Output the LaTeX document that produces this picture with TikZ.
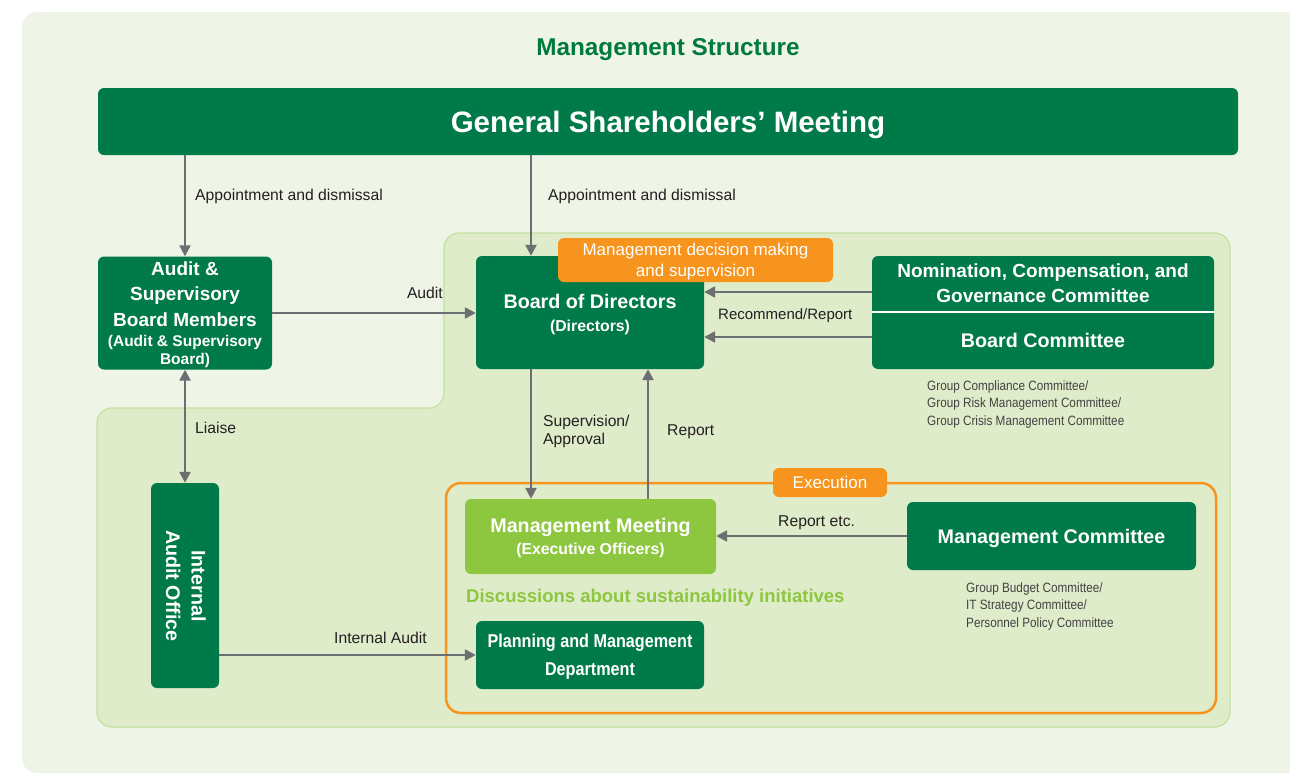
\documentclass[tikz,border=0pt]{standalone}
\usepackage{fontspec}
\setmainfont{Liberation Sans}
\newfontfamily\narrowfont[FakeStretch=0.87]{Liberation Sans}
\usetikzlibrary{arrows.meta,calc}
\definecolor{dkgreen}{HTML}{007A48}
\definecolor{ltgreen}{HTML}{8DC63F}
\definecolor{orng}{HTML}{F7941D}
\definecolor{bgouter}{HTML}{EFF5E6}
\definecolor{bginner}{HTML}{DFECCA}
\definecolor{bgborder}{HTML}{C2E09E}
\definecolor{arrgray}{HTML}{6D6E71}
\definecolor{lbl}{HTML}{231F20}
\definecolor{titlegreen}{HTML}{00793F}
\begin{document}
\begin{tikzpicture}[x=1pt,y=-1pt,
  gbox/.style={fill=dkgreen, rounded corners=6pt, inner sep=0pt, text=white, align=center, text depth=0pt},
  lgbox/.style={gbox, fill=ltgreen},
  obox/.style={fill=orng, rounded corners=6pt, inner sep=0pt, text=white, align=center, text depth=0pt, font=\fontsize{17}{21}\selectfont},
  txtnode/.style={inner sep=0pt, text=white, align=center, text depth=0pt},
  lab/.style={inner sep=0pt, text=lbl, text depth=0pt, font=\fontsize{15.7}{18}\selectfont},
  small/.style={inner sep=0pt, text=lbl!85, align=left, font=\narrowfont\fontsize{13.5}{17.5}\selectfont},
  arr/.style={draw=arrgray, line width=2.4pt, -{Triangle[length=11pt,width=11pt]}},
  darr/.style={draw=arrgray, line width=2.4pt, {Triangle[length=11pt,width=11pt]}-{Triangle[length=11pt,width=11pt]}}
]
\useasboundingbox (0,0) rectangle (1290,774);
\fill[white] (0,0) rectangle (1290,774);
\fill[bgouter, rounded corners=15pt] (1320,12) -- (22,12) -- (22,773) -- (1320,773) -- cycle;
% inner L-shaped region
\filldraw[fill=bginner, draw=bgborder, line width=1.2pt, rounded corners=15pt]
  (444,233) -- (1230,233) -- (1230,727) -- (97,727) -- (97,408) -- (444,408) -- cycle;
% execution frame
\draw[orng, line width=2.5pt, rounded corners=15pt] (446,483) rectangle (1216,713);

% title
\node[inner sep=0pt, text depth=0pt, text=titlegreen, font=\bfseries\fontsize{24.3}{27}\selectfont] (title) at (668,47) {Management Structure};

% General shareholders
\node[gbox, minimum width=1140pt, minimum height=67pt, font=\bfseries\fontsize{29.5}{32}\selectfont] (gsm) at (668,121.5) {General Shareholders’ Meeting};

% Audit & Supervisory board
\node[gbox, minimum width=174pt, minimum height=113pt, font=\bfseries\fontsize{19}{25.5}\selectfont] (asb) at (185,313)
  {Audit \&\\Supervisory\\Board Members\\[-5.5pt]{\fontsize{15.5}{18}\selectfont(Audit \& Supervisory}\\[-7.5pt]{\fontsize{15.5}{18}\selectfont Board)}};

% Board of directors
\node[gbox, minimum width=228pt, minimum height=113pt, font=\bfseries\fontsize{19.7}{23}\selectfont] (bod) at (590,312.5)
  {Board of Directors\\{\fontsize{15.8}{18}\selectfont(Directors)}};
\node[obox, minimum width=275pt, minimum height=44pt] (mdm) at (695.5,260) {Management decision making\\and supervision};

% Committees
\fill[dkgreen, rounded corners=6pt] (872,256) rectangle (1214,369);
\draw[white, line width=2pt] (872,312) -- (1214,312);
\node[txtnode, minimum width=342pt, minimum height=55pt, font=\bfseries\fontsize{19}{25}\selectfont] (ncgc) at (1043,283.5)
  {Nomination, Compensation, and\\Governance Committee};
\node[txtnode, minimum width=342pt, minimum height=56pt, font=\bfseries\fontsize{19.7}{23}\selectfont] (bcom) at (1043,340)
  {Board Committee};
\node[small, anchor=north west] (bcsub) at (927,380.5)
  {Group Compliance Committee/\\Group Risk Management Committee/\\Group Crisis Management Committee};

% Internal audit office
\node[gbox, minimum width=68pt, minimum height=205pt] (iao) at (185,585.5) {};
\node[txtnode, rotate=-90, font=\bfseries\fontsize{19.7}{25.5}\selectfont] (iaot) at (186,586) {Internal\\Audit Office};

% Execution
\node[obox, minimum width=114pt, minimum height=29pt] (exe) at (830,482.5) {Execution};
\node[lgbox, minimum width=251pt, minimum height=75pt, font=\bfseries\fontsize{19.7}{22}\selectfont] (mm) at (590.5,536.5)
  {Management Meeting\\{\fontsize{15.8}{18}\selectfont(Executive Officers)}};
\node[inner sep=0pt, anchor=west, text depth=0pt, text=ltgreen, font=\bfseries\fontsize{18.5}{22}\selectfont] (disc) at (466,596)
  {Discussions about sustainability initiatives};
\node[gbox, minimum width=228pt, minimum height=68pt, font=\narrowfont\bfseries\fontsize{18.6}{28}\selectfont] (pmd) at (590,655)
  {Planning and Management\\Department};
\node[gbox, minimum width=289pt, minimum height=68pt, font=\bfseries\fontsize{19.7}{23}\selectfont] (mc) at (1051.5,536)
  {Management Committee};
\node[small, anchor=north west] (mcsub) at (966,582.5)
  {Group Budget Committee/\\IT Strategy Committee/\\Personnel Policy Committee};

% connectors
\coordinate (xa) at (531,0);
\coordinate (xr) at (648,0);
\coordinate (ya) at (0,292);
\coordinate (yb) at (0,337);
\draw[arr] (gsm.south -| asb.north) -- (asb.north);
\draw[arr] (gsm.south -| xa) -- (bod.north -| xa);
\draw[arr] (asb.east) -- (asb.east -| bod.west);
\draw[arr] (ncgc.west |- ya) -- (bod.east |- ya);
\draw[arr] (bcom.west |- yb) -- (bod.east |- yb);
\draw[darr] (asb.south) -- (iao.north);
\draw[arr] (bod.south -| xa) -- (mm.north -| xa);
\draw[arr] (mm.north -| xr) -- (bod.south -| xr);
\draw[arr] (mc.west) -- (mc.west -| mm.east);
\draw[arr] (iao.east |- pmd.west) -- (pmd.west);

% labels
\node[lab, anchor=west] (l1) at (195,195) {Appointment and dismissal};
\node[lab, anchor=west] (l2) at (548,195) {Appointment and dismissal};
\node[lab, anchor=east] (l3) at (443,293) {Audit};
\node[lab, anchor=west, font=\fontsize{15}{18}\selectfont] (l4) at (718,314) {Recommend/Report};
\node[lab, anchor=west] (l5) at (195,428) {Liaise};
\node[lab, anchor=west, align=left] (l6) at (543,429.5) {Supervision/\\Approval};
\node[lab, anchor=west] (l7) at (667,430) {Report};
\node[lab, anchor=west] (l8) at (334,638) {Internal Audit};
\node[lab, anchor=west] (l9) at (778,521) {Report etc.};
\end{tikzpicture}
\end{document}
